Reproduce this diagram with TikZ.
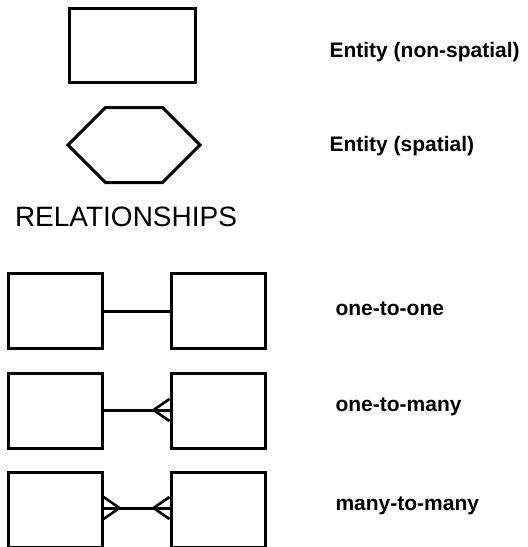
\documentclass[tikz,border=0pt]{standalone}
\usepackage{fontspec}
\setmainfont{Liberation Sans}
\usetikzlibrary{positioning,shapes.symbols}

\begin{document}
\begin{tikzpicture}[
        x=1pt,y=-1pt,
        on grid,node distance=163pt,
        entity/.style={
          draw,line width=3pt,minimum width=94pt,minimum height=75pt,inner sep=0pt},
        spatial/.style={
          draw,line width=3pt,shape=signal,signal to=east and west,signal pointer angle=90,
          minimum width=132pt,minimum height=75pt,inner sep=0pt},
        caption/.style={anchor=west,font=\fontsize{21}{25}\selectfont\bfseries},
        link/.style={line width=3pt},
        crow/.pic={\draw[line width=2.6pt,line join=miter] (0,-11) -- (-16,0) -- (0,11);}]
      \useasboundingbox (0,0) rectangle (528,547);
      \node[entity, minimum width=126pt, minimum height=74pt] (plain) at (132,45) {};
      \node[spatial] (spatial) at (134,145) {};
      \node[font=\fontsize{28}{32}\selectfont] (relations) at (126,217) {RELATIONSHIPS};
      \node[caption] (plainlbl) at (326,52) {Entity (non-spatial)};
      \node[caption] (spatiallbl) at (326,146) {Entity (spatial)};
      % one-to-one
      \node[entity] (oneA) at (55,311) {};
      \node[entity, right=of oneA] (oneB) {};
      \draw[link] (oneA) -- (oneB);
      \node[caption] (onelbl) at (332,309) {one-to-one};
      % one-to-many
      \node[entity] (manyA) at (55,411) {};
      \node[entity, right=of manyA] (manyB) {};
      \draw[link] (manyA.east |- 0,410) -- (manyB.west |- 0,410);
      \pic at (manyB.west |- 0,410) {crow};
      \node[caption] (manylbl) at (332,407) {one-to-many};
      % many-to-many
      \node[entity] (bothA) at (55,510) {};
      \node[entity, right=of bothA] (bothB) {};
      \draw[link] (bothA.east |- 0,508) -- (bothB.west |- 0,508);
      \pic at (bothB.west |- 0,508) {crow};
      \pic[xscale=-1] at (bothA.east |- 0,508) {crow};
      \node[caption] (bothlbl) at (332,506) {many-to-many};
    \end{tikzpicture}
\end{document}
